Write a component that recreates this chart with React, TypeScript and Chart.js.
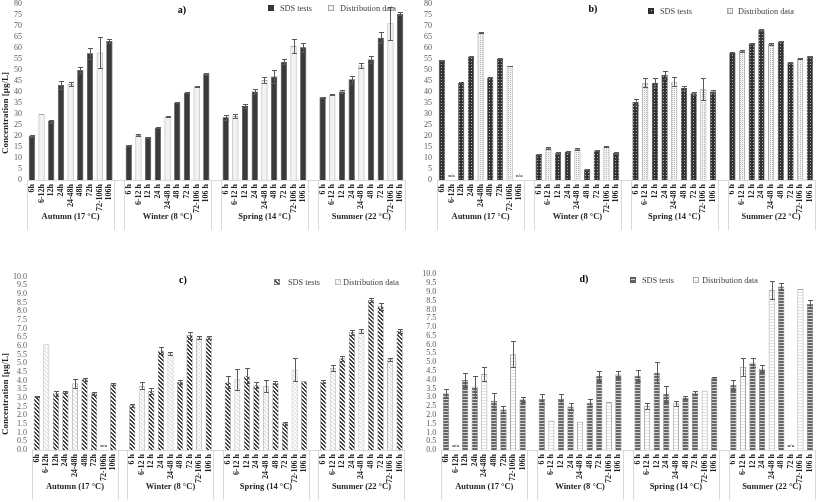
import React, { useEffect, useRef } from "react";
import { Chart, registerables } from "chart.js";
Chart.register(...registerables);

const FONT = "'Liberation Serif', 'Times New Roman', serif";

const seasons = ["Autumn (17 °C)", "Winter (8 °C)", "Spring (14 °C)", "Summer (22 °C)"];
const autumnTimes = ["6h", "6-12h", "12h", "24h", "24-48h", "48h", "72h", "72-106h", "106h"];
const otherTimes = ["6 h", "6-12 h", "12 h", "24 h", "24-48 h", "48 h", "72 h", "72-106 h", "106 h"];
// S = SDS tests, D = Distribution data (same pattern in every season)
const slotTypes = ["S", "D", "S", "S", "D", "S", "S", "D", "S"];
const seriesNames = ["SDS tests", "Distribution data"];
const yTitle = "Concentration [µg/L]";

// Panel a) values per season (Autumn, Winter, Spring, Summer)
const aValues = [
  20, 30, 26.8, 43.2, 43.6, 50, 57.6, 58, 63.2,
  15.8, 20.5, 19.4, 23.8, 28.8, 35.2, 39.7, 42.4, 48.2,
  28.5, 29.1, 33.6, 40.2, 45.5, 47, 53.8, 60.9, 60.3,
  37.6, 38.8, 40.2, 45.8, 52, 54.8, 64.7, 71.2, 75.5,
];
const aErrors = [
  0.6, 0, 0.7, 1.7, 1, 1.5, 2.5, 7, 1,
  0.2, 0.3, 0.2, 0.3, 0.2, 0.2, 0.3, 0.3, 0.3,
  1, 0.8, 1, 1.2, 1.5, 3, 1, 3, 2,
  0.3, 0.2, 0.8, 1.5, 1, 1.5, 2.5, 7.4, 0.7,
];

// Panel b)
const bValues = [
  54.5, null, 44.2, 56, 67, 46.5, 55.2, 51.8, null,
  11.7, 14.5, 12.3, 12.7, 14.1, 4.8, 13.3, 15.2, 12.3,
  35.5, 44.2, 44.2, 47.7, 44.7, 41.8, 39.4, 41.5, 40.2,
  57.9, 58.6, 62.1, 68.2, 61.8, 62.9, 53.3, 55.3, 56.2,
];
const bErrors = [
  0.2, 0, 0.2, 0.2, 0.2, 0.2, 0.2, 0.2, 0,
  0.3, 0.6, 0.3, 0.3, 0.6, 0.2, 0.3, 0.3, 0.3,
  1.5, 2, 2, 2, 2, 1, 0.8, 5, 0.5,
  0.3, 0.5, 0.3, 0.3, 0.5, 0.3, 0.2, 0.2, 0.3,
];

// Panel c)
const cValues = [
  3.08, 6.1, 3.27, 3.35, 3.85, 4.08, 3.27, null, 3.8,
  2.58, 3.7, 3.4, 5.73, 5.58, 3.92, 6.63, 6.5, 6.5,
  3.9, 4.08, 4.29, 3.75, 3.7, 3.88, 1.54, 4.65, 3.96,
  3.94, 4.73, 5.29, 6.79, 6.88, 8.65, 8.3, 5.23, 6.88,
];
const cErrors = [
  0.05, 0, 0.15, 0.05, 0.25, 0.1, 0.1, 0, 0.05,
  0.1, 0.2, 0.15, 0.2, 0.1, 0.1, 0.2, 0.1, 0.1,
  0.35, 0.6, 0.45, 0.15, 0.35, 0.1, 0.1, 0.65, 0,
  0.1, 0.2, 0.15, 0.15, 0.1, 0.1, 0.2, 0.1, 0.1,
];

// Panel d)
const dValues = [
  3.22, null, 3.98, 3.6, 4.33, 2.8, 2.31, 5.45, 2.88,
  2.9, 1.67, 2.9, 2.47, 1.61, 2.69, 4.21, 2.73, 4.3,
  4.23, 2.5, 4.4, 3.19, 2.66, 2.98, 3.26, 3.38, 4.08,
  3.7, 4.74, 4.97, 4.63, 9.1, 9.3, null, 9.16, 8.31,
];
const dErrors = [
  0.25, 0, 0.4, 0.6, 0.4, 0.45, 0.2, 0.75, 0.12,
  0.3, 0, 0.3, 0.2, 0, 0.2, 0.3, 0, 0.2,
  0.3, 0.15, 0.6, 0.45, 0.15, 0.1, 0.08, 0, 0.1,
  0.3, 0.5, 0.25, 0.2, 0.5, 0.2, 0, 0, 0.2,
];

// 39 category slots: 4 seasons x 9 plus a blank slot between seasons
const categoryLabels: string[] = [
  ...autumnTimes, "", ...otherTimes, "", ...otherTimes, "", ...otherTimes,
];

function toSlots<T>(arr: T[], blank: T): T[] {
  const out: T[] = [];
  for (let g = 0; g < 4; g++) {
    for (let i = 0; i < 9; i++) out.push(arr[g * 9 + i]);
    if (g < 3) out.push(blank);
  }
  return out;
}
const slotKind: string[] = toSlots(
  [...slotTypes, ...slotTypes, ...slotTypes, ...slotTypes],
  ""
);

type PanelCfg = {
  key: string;
  letter: string;
  left: number;
  top: number;
  width: number;
  height: number;
  yWidth: number;
  padTop: number;
  padRight: number;
  xHeight: number;
  yMax: number;
  yStep: number;
  decimals: number;
  values: (number | null)[];
  errors: number[];
  showTitle: boolean;
  titleY: number;
  letterPos: [number, number];
  legend: { s1: number; t1: number; s2: number; t2: number; y: number };
};

const panels: PanelCfg[] = [
  {
    key: "a", letter: "a)", left: 0, top: 0, width: 410, height: 250,
    yWidth: 27, padTop: 4, padRight: 5, xHeight: 70,
    yMax: 80, yStep: 5, decimals: 0, values: aValues, errors: aErrors,
    showTitle: true, titleY: 113, letterPos: [182, 10],
    legend: { s1: 268, t1: 280, s2: 328, t2: 340, y: 8 },
  },
  {
    key: "b", letter: "b)", left: 410, top: 0, width: 407, height: 250,
    yWidth: 27, padTop: 4, padRight: 2.3, xHeight: 70,
    yMax: 80, yStep: 5, decimals: 0, values: bValues, errors: bErrors,
    showTitle: false, titleY: 113, letterPos: [183, 9],
    legend: { s1: 238, t1: 250, s2: 317, t2: 328, y: 11 },
  },
  {
    key: "c", letter: "c)", left: 0, top: 250, width: 410, height: 252,
    yWidth: 32, padTop: 26.7, padRight: 5.6, xHeight: 52,
    yMax: 10, yStep: 0.5, decimals: 1, values: cValues, errors: cErrors,
    showTitle: true, titleY: 144, letterPos: [183, 30],
    legend: { s1: 274, t1: 288, s2: 335, t2: 343, y: 32 },
  },
  {
    key: "d", letter: "d)", left: 410, top: 250, width: 407, height: 252,
    yWidth: 31.2, padTop: 24.3, padRight: 2.2, xHeight: 52,
    yMax: 10, yStep: 0.5, decimals: 1, values: dValues, errors: dErrors,
    showTitle: false, titleY: 144, letterPos: [174, 29],
    legend: { s1: 220, t1: 232, s2: 283, t2: 292, y: 30 },
  },
];

function makeTile(w: number, h: number, bg: string, fg: string, px: [number, number][]) {
  const c = document.createElement("canvas");
  c.width = w;
  c.height = h;
  const g = c.getContext("2d")!;
  g.fillStyle = bg;
  g.fillRect(0, 0, w, h);
  g.fillStyle = fg;
  px.forEach(([x, y]) => g.fillRect(x, y, 1, 1));
  return g.createPattern(c, "repeat") as CanvasPattern;
}

function makeStyles(kind: string) {
  if (kind === "a") {
    return { sBg: "#3a3a3a", sBd: "#2a2a2a", dBg: "#f2f2f2", dBd: "#a6a6a6" };
  }
  if (kind === "b") {
    return {
      sBg: makeTile(3, 3, "#333333", "#b5b5b5", [[1, 1]]),
      sBd: "#2a2a2a",
      dBg: makeTile(2, 2, "#f4f4f4", "#b4b4b4", [[0, 0]]),
      dBd: "#a6a6a6",
    };
  }
  if (kind === "c") {
    return {
      sBg: makeTile(4, 4, "#f4f4f4", "#404040", [[0, 0], [1, 1], [2, 2], [3, 3], [1, 0], [2, 1], [3, 2], [0, 3]]),
      sBd: "#7f7f7f",
      dBg: makeTile(4, 4, "#fbfbfb", "#d6d6d6", [[0, 0], [1, 1], [2, 2], [3, 3]]),
      dBd: "#bfbfbf",
    };
  }
  return {
    sBg: makeTile(1, 3, "#d2d2d2", "#666666", [[0, 0], [0, 1]]),
    sBd: "#595959",
    dBg: makeTile(1, 3, "#ffffff", "#e2e2e2", [[0, 0]]),
    dBd: "#a6a6a6",
  };
}

function Panel({ cfg }: { cfg: PanelCfg }) {
  const ref = useRef<HTMLCanvasElement | null>(null);
  useEffect(() => {
    const canvas = ref.current!;
    const st = makeStyles(cfg.key);
    const vals = toSlots<number | null>(cfg.values, null);
    const errs = toSlots<number>(cfg.errors, 0);
    const sdsData = vals.map((v, i) => (slotKind[i] === "S" ? v : null));
    const distData = vals.map((v, i) => (slotKind[i] === "D" ? v : null));

    const decor = {
      id: "decor" + cfg.key,
      afterDatasetsDraw(chart: any) {
        const ctx = chart.ctx;
        const xs = chart.scales.x;
        const ys = chart.scales.y;
        ctx.save();
        ctx.strokeStyle = "#595959";
        ctx.lineWidth = 1;
        vals.forEach((v, i) => {
          const e = errs[i];
          if (v == null || !e) return;
          const px = Math.round(xs.getPixelForValue(i)) + 0.5;
          const yt = Math.round(ys.getPixelForValue(v + e)) + 0.5;
          const yb = Math.round(ys.getPixelForValue(Math.max(v - e, 0))) + 0.5;
          ctx.beginPath();
          ctx.moveTo(px, yt);
          ctx.lineTo(px, yb);
          ctx.moveTo(px - 2.5, yt);
          ctx.lineTo(px + 2.5, yt);
          ctx.moveTo(px - 2.5, yb);
          ctx.lineTo(px + 2.5, yb);
          ctx.stroke();
        });
        ctx.restore();
      },
      afterDraw(chart: any) {
        const ctx = chart.ctx;
        const xs = chart.scales.x;
        const area = chart.chartArea;
        const bottom = area.bottom;
        ctx.save();
        // axis line
        ctx.strokeStyle = "#d9d9d9";
        ctx.lineWidth = 1;
        ctx.beginPath();
        ctx.moveTo(area.left, Math.round(bottom) + 0.5);
        ctx.lineTo(area.right, Math.round(bottom) + 0.5);
        // group dividers
        [0, 9, 10, 19, 20, 29, 30, 39].forEach((k) => {
          const px = Math.round(xs.getPixelForValue(k - 0.5)) + 0.5;
          ctx.moveTo(px, bottom);
          ctx.lineTo(px, bottom + 50);
        });
        ctx.stroke();
        // group labels
        ctx.fillStyle = "#262626";
        ctx.font = `bold 8.5px ${FONT}`;
        ctx.textAlign = "center";
        ctx.textBaseline = "middle";
        seasons.forEach((s, g) => {
          ctx.fillText(s, xs.getPixelForValue(g * 10 + 4), bottom + 37);
        });
        // n/a markers
        ctx.font = `bold 5px ${FONT}`;
        ctx.fillStyle = "#404040";
        vals.forEach((v, i) => {
          if (v == null && slotKind[i] !== "") {
            ctx.fillText("n/a", xs.getPixelForValue(i), bottom - 4);
          }
        });
        // legend
        const L = cfg.legend;
        const sw = 6;
        ctx.lineWidth = 1;
        ctx.fillStyle = st.sBg as any;
        ctx.fillRect(L.s1, L.y - sw / 2, sw, sw);
        ctx.strokeStyle = st.sBd;
        ctx.strokeRect(L.s1 + 0.5, L.y - sw / 2 + 0.5, sw - 1, sw - 1);
        ctx.fillStyle = st.dBg as any;
        ctx.fillRect(L.s2, L.y - sw / 2, sw, sw);
        ctx.strokeStyle = st.dBd;
        ctx.strokeRect(L.s2 + 0.5, L.y - sw / 2 + 0.5, sw - 1, sw - 1);
        ctx.fillStyle = "#404040";
        ctx.font = `8.3px ${FONT}`;
        ctx.textAlign = "left";
        ctx.fillText(seriesNames[0], L.t1, L.y + 0.5);
        ctx.fillText(seriesNames[1], L.t2, L.y + 0.5);
        // panel letter
        ctx.fillStyle = "#000000";
        ctx.font = `bold 10px ${FONT}`;
        ctx.textAlign = "center";
        ctx.fillText(cfg.letter, cfg.letterPos[0], cfg.letterPos[1]);
        // y title
        if (cfg.showTitle) {
          ctx.translate(6, cfg.titleY);
          ctx.rotate(-Math.PI / 2);
          ctx.font = `bold 9px ${FONT}`;
          ctx.fillStyle = "#262626";
          ctx.fillText(yTitle, 0, 0);
        }
        ctx.restore();
      },
    };

    const chart = new Chart(canvas, {
      type: "bar",
      data: {
        labels: categoryLabels,
        datasets: [
          {
            label: seriesNames[0],
            data: sdsData,
            backgroundColor: st.sBg as any,
            borderColor: st.sBd,
            borderWidth: 0.6,
            grouped: false,
            barPercentage: 0.64,
            categoryPercentage: 1,
          } as any,
          {
            label: seriesNames[1],
            data: distData,
            backgroundColor: st.dBg as any,
            borderColor: st.dBd,
            borderWidth: 1,
            grouped: false,
            barPercentage: 0.64,
            categoryPercentage: 1,
          } as any,
        ],
      },
      options: {
        animation: false,
        responsive: false,
        devicePixelRatio: 1,
        layout: { padding: { top: cfg.padTop, right: cfg.padRight, left: 0, bottom: 0 } },
        plugins: { legend: { display: false }, tooltip: { enabled: false } },
        scales: {
          x: {
            type: "category",
            grid: { display: false, drawTicks: false },
            border: { display: false },
            ticks: {
              autoSkip: false,
              minRotation: 90,
              maxRotation: 90,
              padding: 4,
              color: "#262626",
              font: { family: FONT, size: 8, weight: "bold" },
            },
            afterFit: (s: any) => {
              s.height = cfg.xHeight;
              s.paddingLeft = 0;
              s.paddingRight = 0;
            },
          },
          y: {
            min: 0,
            max: cfg.yMax,
            grid: { display: false, drawTicks: false },
            border: { display: false },
            ticks: {
              stepSize: cfg.yStep,
              autoSkip: false,
              padding: 5,
              color: "#595959",
              font: { family: FONT, size: 8 },
              callback: (v: any) => Number(v).toFixed(cfg.decimals),
            },
            afterFit: (s: any) => {
              s.width = cfg.yWidth;
              s.paddingTop = 0;
              s.paddingBottom = 0;
            },
          },
        },
      } as any,
      plugins: [decor],
    });
    return () => chart.destroy();
  }, [cfg]);

  return (
    <canvas
      ref={ref}
      width={cfg.width}
      height={cfg.height}
      style={{ position: "absolute", left: cfg.left, top: cfg.top, width: cfg.width, height: cfg.height }}
    />
  );
}

export default function App() {
  return (
    <div style={{ position: "fixed", left: 0, top: 0, width: 817, height: 502, background: "#ffffff", overflow: "hidden" }}>
      {panels.map((p) => (
        <Panel key={p.key} cfg={p} />
      ))}
    </div>
  );
}
